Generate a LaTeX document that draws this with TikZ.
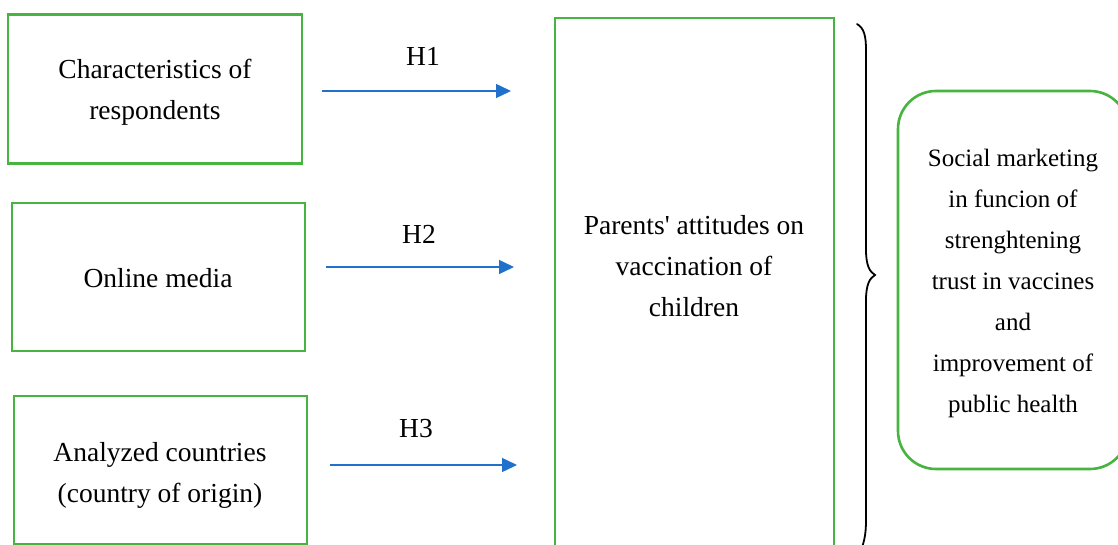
\documentclass[tikz,border=0pt]{standalone}
\usepackage{fontspec}
\setmainfont{Liberation Serif}
\usetikzlibrary{arrows.meta}
\definecolor{boxgreen}{RGB}{72,180,64}
\definecolor{arrblue}{RGB}{32,112,204}
\begin{document}
\begin{tikzpicture}[x=1pt,y=-1pt,
  gbox/.style={draw=boxgreen,line width=2.2pt,rectangle,inner sep=0pt},
  cbox/.style={draw=boxgreen,line width=1.8pt,rectangle,inner sep=0pt},
  rbox/.style={draw=boxgreen,line width=2.6pt,rectangle,rounded corners=38pt,inner sep=0pt},
  txt/.style={inner sep=0pt,align=center,font=\fontsize{27.5}{41}\selectfont},
  stxt/.style={inner sep=0pt,align=center,font=\fontsize{25}{41}\selectfont},
  hyp/.style={draw=arrblue,line width=1.4pt,-{Triangle[length=15pt,width=14pt]}},
  hlab/.style={inner sep=0pt,font=\fontsize{27.5}{30}\selectfont}]
\useasboundingbox (0,0) rectangle (1118,545);
\clip (0,0) rectangle (1118,545);
\fill[white] (0,0) rectangle (1118,545);
% left boxes
\node[gbox,minimum width=294pt,minimum height=149pt] (c1) at (155,89) {};
\node[txt] (c1t) at (155,92) {Characteristics of\\respondents};
\node[gbox,minimum width=293pt,minimum height=148pt] (c2) at (158.5,277) {};
\node[txt] (c2t) at (158,278) {Online media};
\node[gbox,minimum width=293pt,minimum height=148pt] (c3) at (160.5,470) {};
\node[txt] (c3t) at (160,475) {Analyzed countries\\(country of origin)};
% centre box
\node[cbox,minimum width=279pt,minimum height=560pt] (att) at (694.5,298) {};
\node[txt] (attt) at (694,266) {Parents\textquotesingle{} attitudes on\\vaccination of\\children};
% right rounded box
\node[rbox,minimum width=230pt,minimum height=378pt] (soc) at (1013,280) {};
\node[stxt] (soct) at (1013,283)
  {Social marketing\\in funcion of\\strenghtening\\trust in vaccines\\and\\improvement of\\public health};
% arrows
\coordinate (a1s) at (322,91); \coordinate (a1e) at (511,91);
\coordinate (a2s) at (326,267); \coordinate (a2e) at (514,267);
\coordinate (a3s) at (330,465); \coordinate (a3e) at (517,465);
\draw[hyp] (a1s) -- (a1e);
\draw[hyp] (a2s) -- (a2e);
\draw[hyp] (a3s) -- (a3e);
\node[hlab] (h1) at (423,56) {H1};
\node[hlab] (h2) at (419,234) {H2};
\node[hlab] (h3) at (416,429) {H3};
% brace
\draw[line width=1.8pt,line cap=round] (857,24)
  .. controls (864,28) and (866,36) .. (866,50)
  -- (866,250)
  .. controls (866,266) and (870,272) .. (875,275)
  .. controls (870,278) and (866,284) .. (866,300)
  -- (866,520)
  .. controls (866,535) and (864,545) .. (858,556);
\end{tikzpicture}
\end{document}
